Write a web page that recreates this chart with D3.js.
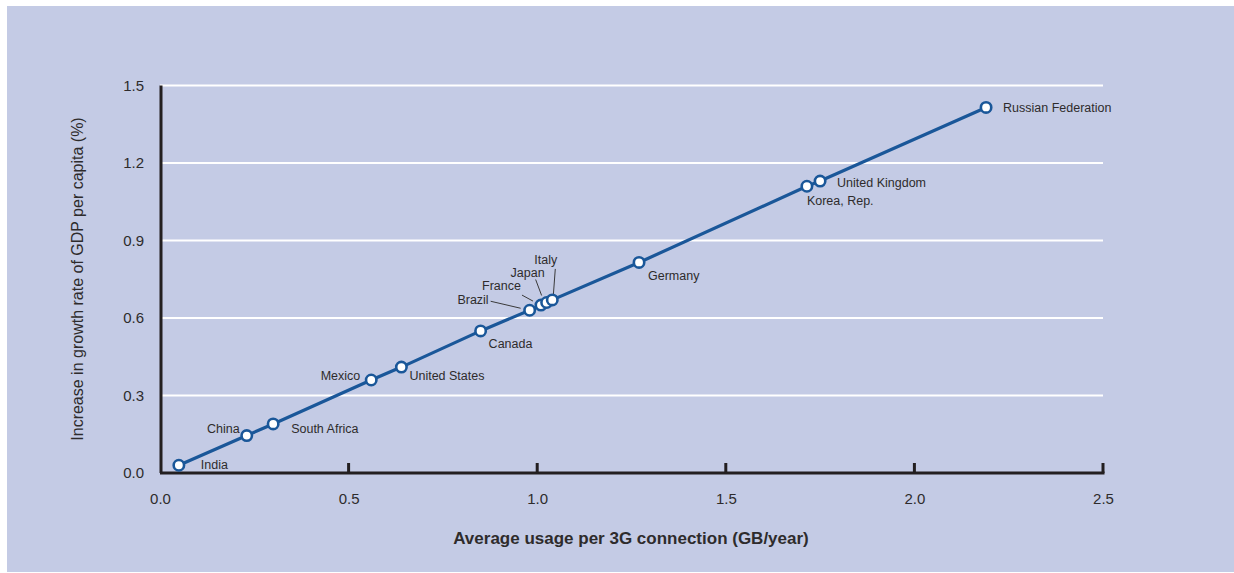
<!DOCTYPE html>
<html>
<head>
<meta charset="utf-8">
<script src="https://cdn.jsdelivr.net/npm/d3@7"></script>
<style>
  html, body { margin: 0; padding: 0; background: #ffffff; }
  svg { display: block; }
  text { font-family: "Liberation Sans", Arial, sans-serif; fill: #2e2b2c; }
</style>
</head>
<body>
<svg id="chart" width="1234" height="573"></svg>
<script>
// ---- data ----
const countries = ["India", "China", "South Africa", "Mexico", "United States", "Canada",
  "Brazil", "France", "Japan", "Italy", "Germany", "Korea, Rep.", "United Kingdom", "Russian Federation"];
const usage = [0.05, 0.23, 0.30, 0.56, 0.64, 0.85, 0.98, 1.01, 1.025, 1.04, 1.27, 1.715, 1.75, 2.19];
const growth = [0.03, 0.145, 0.19, 0.36, 0.41, 0.55, 0.63, 0.65, 0.66, 0.67, 0.815, 1.11, 1.13, 1.415];
const xTicks = [0.0, 0.5, 1.0, 1.5, 2.0, 2.5];
const yTicks = [0.0, 0.3, 0.6, 0.9, 1.2, 1.5];
const xTitle = "Average usage per 3G connection (GB/year)";
const yTitle = "Increase in growth rate of GDP per capita (%)";

// ---- label placement (layout only) ----
const labelPlace = {
  "India": {dx: 22, dy: 4, anchor: "start"},
  "China": {dx: -7, dy: -3, anchor: "end"},
  "South Africa": {dx: 18, dy: 9, anchor: "start"},
  "Mexico": {dx: -11, dy: 0, anchor: "end"},
  "United States": {dx: 8, dy: 13, anchor: "start"},
  "Canada": {dx: 8, dy: 17, anchor: "start"},
  "Brazil": {dx: -41, dy: -6, anchor: "end", lead: [-39, -9, -9, -2]},
  "France": {dx: -20, dy: -15, anchor: "end", lead: [-19, -10, -8, -4]},
  "Japan": {dx: -2, dy: -26, anchor: "end", lead: [-11, -23, -5, -7]},
  "Italy": {dx: -18, dy: -36, anchor: "start", lead: [3, -31, 1, -4]},
  "Germany": {dx: 9, dy: 18, anchor: "start"},
  "Korea, Rep.": {dx: 0, dy: 19, anchor: "start"},
  "United Kingdom": {dx: 17, dy: 6, anchor: "start"},
  "Russian Federation": {dx: 17, dy: 5, anchor: "start"}
};

const svg = d3.select("#chart");

// panel background
svg.append("rect").attr("x", 7).attr("y", 6).attr("width", 1227).attr("height", 566)
  .attr("fill", "#c4cbe5");

const x = d3.scaleLinear().domain([0, 2.5]).range([160, 1103]);
const y = d3.scaleLinear().domain([0, 1.5]).range([473, 85.5]);

// gridlines
svg.append("g").selectAll("line").data(yTicks.filter(d => d > 0)).join("line")
  .attr("x1", x(0)).attr("x2", x(2.5))
  .attr("y1", d => y(d)).attr("y2", d => y(d))
  .attr("stroke", "#ffffff").attr("stroke-width", 2);

// y axis
const yAxis = d3.axisLeft(y).tickValues(yTicks).tickFormat(d3.format(".1f")).tickSize(0).tickPadding(16);
const gy = svg.append("g").attr("transform", `translate(${x(0)},0)`).call(yAxis);
gy.select(".domain").remove();
gy.selectAll("text").style("font-size", "15px").attr("fill", "#2e2b2c")
  .style("font-family", "'Liberation Sans', Arial, sans-serif");
svg.append("line").attr("x1", x(0) + 1).attr("x2", x(0) + 1).attr("y1", y(1.5)).attr("y2", y(0))
  .attr("stroke", "#231f20").attr("stroke-width", 3);

// x axis
const xAxis = d3.axisBottom(x).tickValues(xTicks).tickFormat(d3.format(".1f")).tickSize(0).tickPadding(20);
const gx = svg.append("g").attr("transform", `translate(0,${y(0)})`).call(xAxis);
gx.select(".domain").remove();
gx.selectAll("text").style("font-size", "15px").attr("fill", "#2e2b2c")
  .style("font-family", "'Liberation Sans', Arial, sans-serif");
svg.append("line").attr("x1", x(0)).attr("x2", x(2.5) + 1.5).attr("y1", y(0)).attr("y2", y(0))
  .attr("stroke", "#231f20").attr("stroke-width", 3);
svg.append("g").selectAll("line").data(xTicks.filter(d => d > 0)).join("line")
  .attr("x1", d => x(d)).attr("x2", d => x(d))
  .attr("y1", y(0)).attr("y2", y(0) - 10)
  .attr("stroke", "#231f20").attr("stroke-width", 3);

// axis titles
svg.append("text").attr("x", 631).attr("y", 544).attr("text-anchor", "middle")
  .style("font-size", "17px").style("font-weight", "bold").text(xTitle);
svg.append("text").attr("transform", "translate(83,279) rotate(-90)").attr("text-anchor", "middle")
  .style("font-size", "16px").text(yTitle);

// data
const pts = countries.map((c, i) => ({name: c, u: usage[i], g: growth[i]}));

const line = d3.line().x(d => x(d.u)).y(d => y(d.g));
svg.append("path").datum(pts).attr("d", line)
  .attr("fill", "none").attr("stroke", "#1a5799").attr("stroke-width", 3.2);

// leader lines
svg.append("g").selectAll("line").data(pts.filter(d => labelPlace[d.name].lead)).join("line")
  .attr("x1", d => x(d.u) + labelPlace[d.name].lead[0])
  .attr("y1", d => y(d.g) + labelPlace[d.name].lead[1])
  .attr("x2", d => x(d.u) + labelPlace[d.name].lead[2])
  .attr("y2", d => y(d.g) + labelPlace[d.name].lead[3])
  .attr("stroke", "#3a3a3a").attr("stroke-width", 1);

svg.append("g").selectAll("circle").data(pts).join("circle")
  .attr("cx", d => x(d.u)).attr("cy", d => y(d.g)).attr("r", 5.2)
  .attr("fill", "#ffffff").attr("stroke", "#1a5799").attr("stroke-width", 2.6);

svg.append("g").selectAll("text").data(pts).join("text")
  .attr("x", d => x(d.u) + labelPlace[d.name].dx)
  .attr("y", d => y(d.g) + labelPlace[d.name].dy)
  .attr("text-anchor", d => labelPlace[d.name].anchor)
  .style("font-size", "12.5px")
  .text(d => d.name);
</script>
</body>
</html>
